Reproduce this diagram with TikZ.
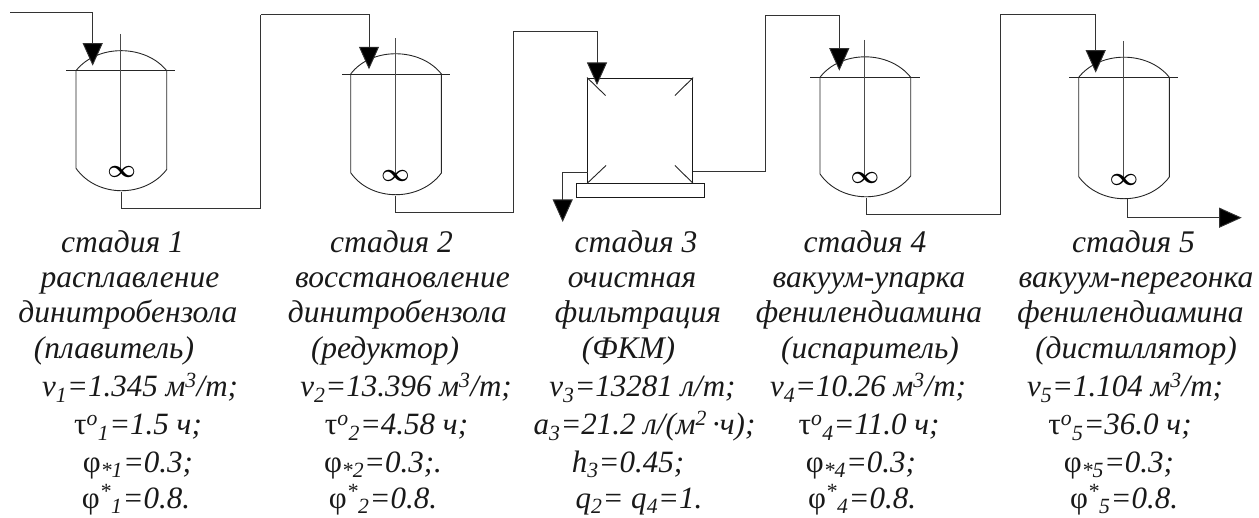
\documentclass[tikz,border=0pt]{standalone}
\usepackage{fontspec}
\setmainfont{Liberation Serif}
\usepackage{tikz}
\usetikzlibrary{arrows.meta,positioning,calc}
\newcommand{\utau}{\textup{τ}}
\newcommand{\uphi}{\textup{φ}}
\tikzset{
  pipe/.style={-{Triangle[length=22.5pt,width=20pt,fill=black]}, line width=0.9pt, draw=black!80},
  pipeend/.style={line width=0.9pt, draw=black!80},
  vessel/.style={line width=0.9pt, draw=black!85},
  shaft/.style={line width=0.9pt, draw=black!70},
  filterbox/.style={draw=black!90, line width=0.9pt, minimum width=105.2pt, minimum height=105pt, inner sep=0pt},
  basebox/.style={draw=black!90, line width=0.9pt, minimum width=128.3pt, minimum height=14pt, inner sep=0pt},
  mixer/.style={inner sep=0pt, font=\boldmath\fontsize{33}{33}\selectfont},
  lbl/.style={anchor=base, inner sep=0pt, text=black!90, font=\itshape\fontsize{31.5}{31.5}\selectfont},
  vallbl/.style={lbl, font=\itshape\fontsize{31}{31}\selectfont}
}
\begin{document}
\begin{tikzpicture}[x=1pt, y=-1pt]
  \useasboundingbox (0,0) rectangle (1259,518);
  % stage 1
  \coordinate (ain) at (10,12);
  \coordinate (afeed) at (92.7,65.7);
  \coordinate (abot) at (121.3,192);
  \draw[vessel] (76,70.7) .. controls (97,44) and (145,44) .. (166.7,70.7) -- (166.7,169.5) .. controls (145,198) and (97,198) .. (76,168.3) -- cycle;
  \draw[vessel] (66,70.7) -- (175.3,70.7);
  \draw[shaft] (120.7,34) -- (120.7,172);
  \node[mixer] (amix) at (121.7,172.3) {$\infty$};
  \draw[pipe] (ain) -| (afeed);

  % stage 2
  \coordinate (bfeed) at (369,69.3);
  \coordinate (bbot) at (395.7,195.7);
  \coordinate (ab1) at (260.7,208.3);
  \coordinate (ab2) at (260.7,14.7);
  \draw[vessel] (350.7,74) .. controls (371,47) and (420,47) .. (441.4,74) -- (441.4,173) .. controls (420,202) and (371,202) .. (350.7,172.7) -- cycle;
  \draw[vessel] (342,74) -- (450,74);
  \draw[shaft] (395,38.3) -- (395,176);
  \node[mixer] (bmix) at (395.5,176) {$\infty$};
  \draw[pipeend] (abot) |- (ab1) -- (ab2);
  \draw[pipe] (ab2) -| (bfeed);

  % stage 3
  \node[filterbox] (filt) at (640.1,130.5) {};
  \node[basebox, below=0pt of filt.south] (fbase) {};
  \coordinate (cfeed) at (597,85);
  \coordinate (bc1) at (513.5,212);
  \coordinate (bc2) at (513.5,31);
  \coordinate (cdrain) at (587.5,172.7);
  \coordinate (cwaste) at (562.7,222);
  \coordinate (cout) at (692.7,171.3);
  \draw[vessel] (filt.north west) -- ++(18.5,18);
  \draw[vessel] (filt.north east) -- ++(-18.2,18);
  \draw[vessel] (filt.south west) -- ++(19,-18);
  \draw[vessel] (filt.south east) -- ++(-18.2,-18);
  \draw[pipeend] (bbot) |- (bc1) -- (bc2);
  \draw[pipe] (bc2) -| (cfeed);
  \draw[pipe] (cdrain) -| (cwaste);

  % stage 4
  \coordinate (dfeed) at (839.3,70.7);
  \coordinate (dbot) at (866,197.7);
  \coordinate (cd1) at (765.7,171.3);
  \coordinate (cd2) at (765.7,15);
  \draw[vessel] (820,77.3) .. controls (841,50) and (889,50) .. (910.7,77.3) -- (910.7,176) .. controls (889,204) and (841,204) .. (820,174) -- cycle;
  \draw[vessel] (810,77.3) -- (920,77.3);
  \draw[shaft] (864.7,40) -- (864.7,178);
  \node[mixer] (dmix) at (865,178) {$\infty$};
  \draw[pipeend] (cout) -- (cd1) -- (cd2);
  \draw[pipe] (cd2) -| (dfeed);

  % stage 5
  \coordinate (efeed) at (1095.7,72.7);
  \coordinate (ebot) at (1127.3,199.3);
  \coordinate (eout) at (1241.7,217.7);
  \coordinate (de1) at (1000,214.3);
  \coordinate (de2) at (1000,14);
  \draw[vessel] (1078.7,77.3) .. controls (1100,50.5) and (1148,50.5) .. (1169.3,77.3) -- (1169.3,177) .. controls (1148,206) and (1100,206) .. (1078.7,176.7) -- cycle;
  \draw[vessel] (1069,77.3) -- (1178,77.3);
  \draw[shaft] (1123.3,41) -- (1123.3,179);
  \node[mixer] (emix) at (1124,179.5) {$\infty$};
  \draw[pipeend] (dbot) |- (de1) -- (de2);
  \draw[pipe] (de2) -| (efeed);
  \draw[pipe] (ebot) |- (eout);

  % labels
  \node[lbl] (a1) at (122.5,253) {стадия 1};
  \node[lbl] (a2) at (130,288) {расплавление};
  \node[lbl] (a3) at (128,323) {динитробензола};
  \node[lbl] (a4) at (114,359) {(плавитель)};
  \node[vallbl] (a5) at (140,397) {v\textsubscript{1}=1.345 м\textsuperscript{3}/т;};
  \node[vallbl] (a6) at (138,435) {\utau\textsuperscript{o}\textsubscript{1}=1.5 ч;};
  \node[vallbl] (a7) at (138,472) {\uphi\textsubscript{*1}=0.3;};
  \node[vallbl] (a8) at (136,508) {\uphi\textsuperscript{*}\textsubscript{1}=0.8.};

  \node[lbl] (b1) at (391.5,253) {стадия 2};
  \node[lbl] (b2) at (402.5,288) {восстановление};
  \node[lbl] (b3) at (397.5,323) {динитробензола};
  \node[lbl] (b4) at (385,359) {(редуктор)};
  \node[vallbl] (b5) at (406,397) {v\textsubscript{2}=13.396 м\textsuperscript{3}/т;};
  \node[vallbl] (b6) at (396.5,435) {\utau\textsuperscript{o}\textsubscript{2}=4.58 ч;};
  \node[vallbl] (b7) at (383,472) {\uphi\textsubscript{*2}=0.3;.};
  \node[vallbl] (b8) at (383,508) {\uphi\textsuperscript{*}\textsubscript{2}=0.8.};

  \node[lbl] (c1) at (636,253) {стадия 3};
  \node[lbl] (c2) at (632,288) {очистная};
  \node[lbl] (c3) at (638,323) {фильтрация};
  \node[lbl] (c4) at (628.5,359) {(ФКМ)};
  \node[vallbl] (c5) at (642.5,397) {v\textsubscript{3}=13281 л/т;};
  \node[vallbl] (c6) at (644.5,435) {a\textsubscript{3}=21.2 л/(м\textsuperscript{2}\,·ч);};
  \node[vallbl] (c7) at (628,472) {h\textsubscript{3}=0.45;};
  \node[vallbl] (c8) at (639,508) {q\textsubscript{2}= q\textsubscript{4}=1.};

  \node[lbl] (d1) at (865,253) {стадия 4};
  \node[lbl] (d2) at (869,288) {вакуум-упарка};
  \node[lbl] (d3) at (869,323) {фенилендиамина};
  \node[lbl] (d4) at (870,359) {(испаритель)};
  \node[vallbl] (d5) at (868,397) {v\textsubscript{4}=10.26 м\textsuperscript{3}/т;};
  \node[vallbl] (d6) at (869,435) {\utau\textsuperscript{o}\textsubscript{4}=11.0 ч;};
  \node[vallbl] (d7) at (861,472) {\uphi\textsubscript{*4}=0.3;};
  \node[vallbl] (d8) at (862,508) {\uphi\textsuperscript{*}\textsubscript{4}=0.8.};

  \node[lbl] (e1) at (1133.5,253) {стадия 5};
  \node[lbl] (e2) at (1136,288) {вакуум-перегонка};
  \node[lbl] (e3) at (1130.5,323) {фенилендиамина};
  \node[lbl] (e4) at (1136,359) {(дистиллятор)};
  \node[vallbl] (e5) at (1125,397) {v\textsubscript{5}=1.104 м\textsuperscript{3}/т;};
  \node[vallbl] (e6) at (1120,435) {\utau\textsuperscript{o}\textsubscript{5}=36.0 ч;};
  \node[vallbl] (e7) at (1119,472) {\uphi\textsubscript{*5}=0.3;};
  \node[vallbl] (e8) at (1124,508) {\uphi\textsuperscript{*}\textsubscript{5}=0.8.};
\end{tikzpicture}
\end{document}
